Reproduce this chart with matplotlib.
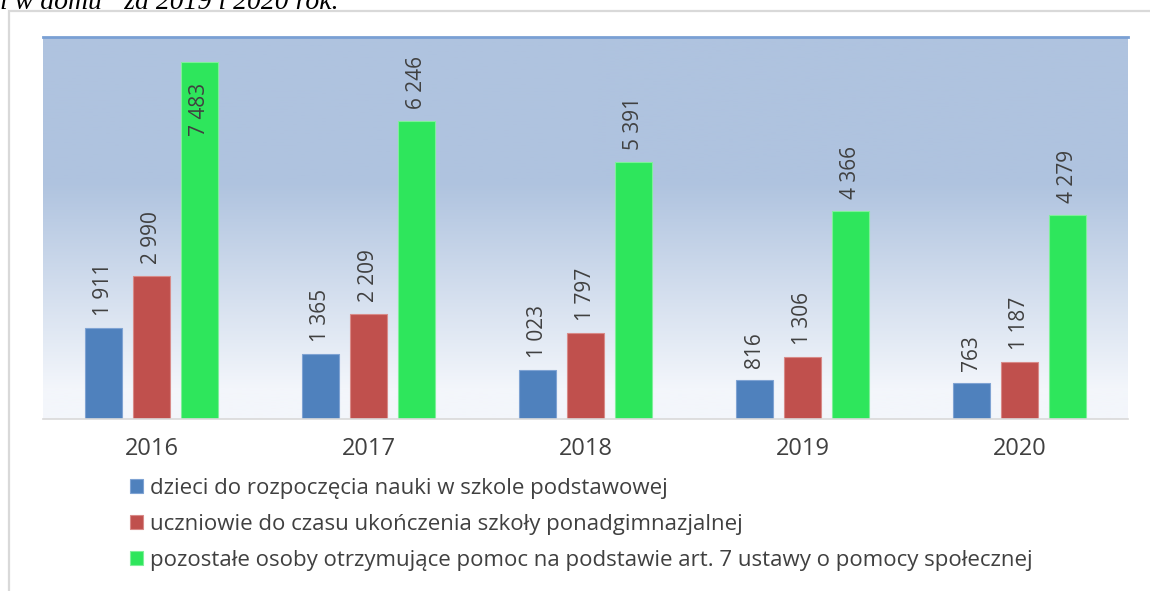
import numpy as np
import matplotlib
matplotlib.use("Agg")
import matplotlib.pyplot as plt
from matplotlib.colors import LinearSegmentedColormap
from matplotlib.patches import Rectangle

years = ["2016", "2017", "2018", "2019", "2020"]
series_names = [
    "dzieci do rozpoczęcia nauki w szkole podstawowej",
    "uczniowie do czasu ukończenia szkoły ponadgimnazjalnej",
    "pozostałe osoby otrzymujące pomoc na podstawie art. 7 ustawy o pomocy społecznej",
]
dzieci = [1911, 1365, 1023, 816, 763]
uczniowie = [2990, 2209, 1797, 1306, 1187]
pozostale = [7483, 6246, 5391, 4366, 4279]
colors = ["#4f81bd", "#c0504d", "#2ee65c"]
edges = ["#7fa3d3", "#d88a88", "#7ff09a"]

W, H = 1150, 591
fig = plt.figure(figsize=(W / 100, H / 100), dpi=100)
FONT = "Open Sans"
TXT = "#404040"

# cropped heading text at top
fig.text(0.0, 1 - 9 / H, "i w domu\u201d za 2019 i 2020 rok.", family="Liberation Serif",
         style="italic", fontsize=20, color="black", va="baseline", ha="left")

# outer frame
fig.patches.append(Rectangle((9 / W, -0.1), 1.2, 1 - 11 / H + 0.1, transform=fig.transFigure,
                             fill=False, edgecolor="#d9d9d9", linewidth=1.6))

x0, x1 = 43, 1128
ytop, ybot = 37, 419
ax = fig.add_axes([x0 / W, 1 - ybot / H, (x1 - x0) / W, (ybot - ytop) / H])

# gradient background
top_c = np.array([0xaf, 0xc3, 0xdf]) / 255
bot_c = np.array([0xf3, 0xf6, 0xfb]) / 255
cmap = LinearSegmentedColormap.from_list("g", [(0, top_c), (0.38, top_c), (0.92, bot_c), (1, bot_c)])
grad = np.linspace(0, 1, 256).reshape(-1, 1)
ax.imshow(grad, cmap=cmap, aspect="auto", extent=(0, 1, 0, 1), transform=ax.transAxes,
          origin="upper", zorder=0)

x = np.arange(len(years))
width = 0.17
offs = [-0.22, 0.0, 0.22]
ymax = 8000
data = [dzieci, uczniowie, pozostale]
handles = []
for i, vals in enumerate(data):
    b = ax.bar(x + offs[i], vals, width, color=colors[i], edgecolor=edges[i], linewidth=0.8,
               zorder=2, label=series_names[i])
    handles.append(b)
    for xi, v in zip(x + offs[i], vals):
        lab = f"{v:,}".replace(",", " ")
        if v > 7000:
            ax.text(xi, v - 440, lab, rotation=90, ha="center", va="top", fontsize=15,
                    family=FONT, color=TXT, zorder=3)
        else:
            ax.text(xi, v + 250, lab, rotation=90, ha="center", va="bottom", fontsize=15,
                    family=FONT, color=TXT, zorder=3)

ax.set_xlim(-0.5, len(years) - 0.5)
ax.set_ylim(0, ymax)
ax.set_yticks([])
ax.set_xticks(x)
ax.set_xticklabels(years, family=FONT, fontsize=17, color=TXT)
ax.tick_params(axis="x", length=0, pad=13)
for s in ["left", "right"]:
    ax.spines[s].set_visible(False)
ax.spines["top"].set_color("#7aa0d4")
ax.spines["top"].set_linewidth(2)
ax.spines["bottom"].set_color("#d9d9d9")
ax.spines["bottom"].set_linewidth(1.2)

leg = fig.legend(handles=handles, labels=series_names, loc="upper left",
                 bbox_to_anchor=(130 / W, 1 - 478 / H), frameon=False,
                 prop={"family": FONT, "size": 16}, handlelength=0.59, handleheight=0.59,
                 handletextpad=0.3, labelspacing=0.68, borderpad=0, borderaxespad=0)
for t in leg.get_texts():
    t.set_color(TXT)

fig.savefig("out.png", dpi=100)
